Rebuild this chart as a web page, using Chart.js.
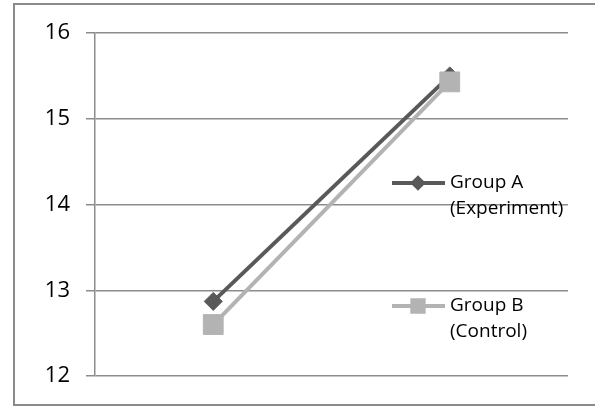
<!DOCTYPE html>
<html>
<head>
<meta charset="utf-8">
<script src="https://cdn.jsdelivr.net/npm/chart.js@4/dist/chart.umd.min.js"></script>
<style>
    html, body { margin: 0; padding: 0; background: #fff; }
    #wrap { width: 595px; height: 409px; }
</style>
</head>
<body>
<div id="wrap"><canvas id="chart" width="595" height="409"></canvas></div>
<script>
// Chart data
const categories = ['Pre-test', 'Post-test'];
const groupA = [12.87, 15.50];
const groupB = [12.60, 15.43];
const seriesNames = ['Group A (Experiment)', 'Group B (Control)'];
const legendLines = [['Group A', '(Experiment)'], ['Group B', '(Control)']];
const yTicks = [12, 13, 14, 15, 16];

const darkGray = '#595959';
const lightGray = '#b3b3b3';
const gridGray = '#8c8c8c';
const fontFamily = '"Open Sans", "Liberation Sans", Arial, sans-serif';

// Outer frame, like the Excel chart border
const framePlugin = {
    id: 'frame',
    beforeDraw(chart) {
        const ctx = chart.ctx;
        ctx.save();
        ctx.fillStyle = '#fff';
        ctx.fillRect(0, 0, chart.width, chart.height);
        ctx.strokeStyle = '#8a8a8a';
        ctx.lineWidth = 2;
        ctx.strokeRect(14, 4, 620, 401);
        ctx.restore();
    }
};

// Legend drawn over the plot area on the right
const overlayLegend = {
    id: 'overlayLegend',
    afterDraw(chart) {
        const ctx = chart.ctx;
        const rows = [183, 306];
        ctx.save();
        chart.data.datasets.forEach((ds, i) => {
            const y = rows[i];
            ctx.strokeStyle = ds.borderColor;
            ctx.lineWidth = 4;
            ctx.beginPath();
            ctx.moveTo(392, y);
            ctx.lineTo(445, y);
            ctx.stroke();
            ctx.fillStyle = ds.pointBackgroundColor;
            ctx.strokeStyle = ds.pointBorderColor;
            Chart.helpers.drawPoint(ctx, {
                pointStyle: ds.pointStyle,
                radius: i === 0 ? 5 : 8,
                borderWidth: 1,
                rotation: 0
            }, 418, y);
            ctx.fillStyle = '#000';
            ctx.font = '19px ' + fontFamily;
            ctx.textBaseline = 'middle';
            ctx.textAlign = 'left';
            legendLines[i].forEach((line, j) => {
                ctx.fillText(line, 450, y + j * 26);
            });
        });
        ctx.restore();
    }
};

new Chart(document.getElementById('chart'), {
    type: 'line',
    data: {
        labels: categories,
        datasets: [
            {
                label: seriesNames[0],
                data: groupA,
                order: 1,
                borderColor: darkGray,
                backgroundColor: darkGray,
                borderWidth: 4,
                pointStyle: 'rectRot',
                pointRadius: 9,
                pointBackgroundColor: darkGray,
                pointBorderColor: darkGray,
                pointBorderWidth: 1,
                tension: 0
            },
            {
                label: seriesNames[1],
                data: groupB,
                order: 0,
                borderColor: lightGray,
                backgroundColor: lightGray,
                borderWidth: 4,
                pointStyle: 'rect',
                pointRadius: 14,
                pointBackgroundColor: lightGray,
                pointBorderColor: lightGray,
                pointBorderWidth: 1,
                tension: 0
            }
        ]
    },
    options: {
        responsive: false,
        animation: false,
        layout: {
            padding: { left: 0, top: 33, right: 27, bottom: 33 }
        },
        plugins: {
            legend: { display: false },
            tooltip: { enabled: false }
        },
        scales: {
            x: {
                offset: true,
                grid: { display: false },
                ticks: { display: false },
                border: { display: false },
                afterFit(scale) { scale.height = 0; }
            },
            y: {
                min: 12,
                max: 16,
                afterBuildTicks(scale) {
                    scale.ticks = yTicks.map(v => ({ value: v }));
                },
                afterFit(scale) { scale.width = 95; },
                grid: {
                    color: gridGray,
                    lineWidth: 1.5,
                    tickLength: 9,
                    drawTicks: true
                },
                border: { display: true, color: gridGray, width: 1.5 },
                ticks: {
                    padding: 16,
                    color: '#000',
                    font: { family: fontFamily, size: 22 }
                }
            }
        }
    },
    plugins: [framePlugin, overlayLegend]
});
</script>
</body>
</html>
